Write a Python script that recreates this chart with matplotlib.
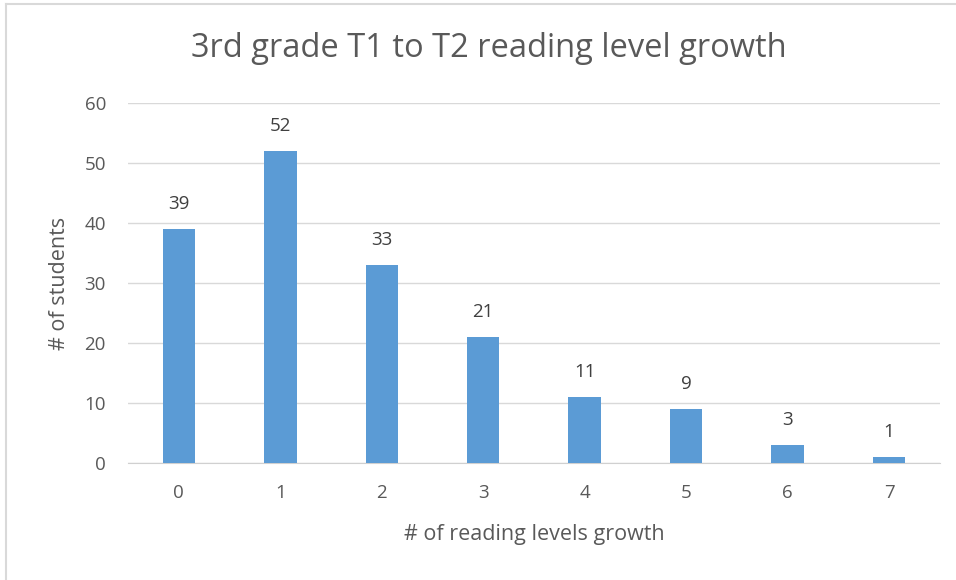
import matplotlib.pyplot as plt
from matplotlib.lines import Line2D

plt.rcParams['font.family'] = ['Open Sans', 'DejaVu Sans']

growth = [0, 1, 2, 3, 4, 5, 6, 7]
students = [39, 52, 33, 21, 11, 9, 3, 1]
yticks = [0, 10, 20, 30, 40, 50, 60]

text_col = '#595959'

fig = plt.figure(figsize=(9.56, 5.8), dpi=100)
ax = fig.add_axes([0.134, 0.2017, 0.849, 0.6207])

ax.bar(growth, students, width=0.32, color='#5B9BD5', zorder=3)
for x, v in zip(growth, students):
    ax.annotate(str(v), (x, v), xytext=(0, 11.5), textcoords='offset points',
                ha='center', va='bottom', fontsize=13.5, color='#404040')

ax.set_xlim(-0.5, 7.5)
ax.set_ylim(0, 60)
ax.set_yticks(yticks)
ax.set_xticks(growth)
ax.yaxis.grid(True, color='#D9D9D9', linewidth=1, zorder=0)
for s in ['top', 'right', 'left']:
    ax.spines[s].set_visible(False)
ax.spines['bottom'].set_color('#D0D0D0')
ax.tick_params(length=0, labelsize=13.5, labelcolor=text_col)
ax.tick_params(axis='x', pad=15)
ax.tick_params(axis='y', pad=16)

fig.text(0.511, 0.917, '3rd grade T1 to T2 reading level growth', fontsize=23.5,
         color=text_col, ha='center', va='center')
ax.set_xlabel('# of reading levels growth', fontsize=15.5, color=text_col, labelpad=16)
ax.set_ylabel('# of students', fontsize=15.5, color=text_col, labelpad=10)

# light frame on top and left edges
fig.add_artist(Line2D([0.006, 0.006], [0, 0.993], color='#D9D9D9', lw=1.5, transform=fig.transFigure))
fig.add_artist(Line2D([0.006, 1], [0.993, 0.993], color='#D9D9D9', lw=1.5, transform=fig.transFigure))

fig.savefig('out.png', dpi=100)
